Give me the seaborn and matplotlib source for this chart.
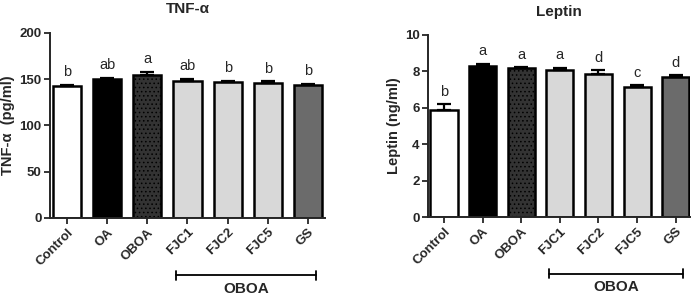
import numpy as np
import pandas as pd
import seaborn as sns
import matplotlib.pyplot as plt
import matplotlib.transforms as mtransforms

# ---------------------------------------------------------------------------
# data
# ---------------------------------------------------------------------------
grupos = ["Control", "OA", "OBOA", "FJC1", "FJC2", "FJC5", "GS"]

tnf_media = [142.5, 150.0, 154.5, 147.5, 146.5, 146.3, 143.5]
tnf_erro = [1.5, 1.5, 3.5, 3.0, 1.8, 1.5, 1.5]
tnf_letras = ["b", "ab", "a", "ab", "b", "b", "b"]

leptina_media = [5.9, 8.27, 8.18, 8.06, 7.85, 7.13, 7.67]
leptina_erro = [0.3, 0.15, 0.05, 0.15, 0.2, 0.12, 0.13]
leptina_letras = ["b", "a", "a", "a", "d", "c", "d"]

cores = {"Control": "#ffffff", "OA": "#000000", "OBOA": "#333333",
         "FJC1": "#d8d8d8", "FJC2": "#d8d8d8", "FJC5": "#d8d8d8", "GS": "#6b6b6b"}

sns.set_style("ticks")
plt.rcParams["font.family"] = ["Liberation Sans", "DejaVu Sans"]
plt.rcParams["hatch.color"] = "#5a5a5a"
plt.rcParams["hatch.linewidth"] = 0.6


def painel(ax, medias, erros, letras, titulo, ylabel, ymax, passo, xlim):
    df = pd.DataFrame({"grupo": grupos, "valor": medias})
    sns.barplot(data=df, x="grupo", y="valor", hue="grupo", palette=cores,
                legend=False, width=0.7, edgecolor="black", linewidth=1.8,
                errorbar=None, ax=ax)
    ax.patches[2].set_hatch("....")

    x = np.arange(len(grupos))
    ax.errorbar(x, medias, yerr=[np.zeros(len(x)), erros], fmt="none",
                ecolor="black", elinewidth=1.6, capsize=5, capthick=1.6, zorder=3)

    for xi, m, e, l in zip(x, medias, erros, letras):
        ax.text(xi, m + e + ymax * 0.03, l, ha="center", va="bottom", fontsize=10.5)

    ax.set_ylim(0, ymax)
    ax.set_yticks(np.arange(0, ymax + passo / 2, passo))
    ax.set_xlim(*xlim)
    ax.set_title(titulo, fontsize=11, weight="bold", pad=14)
    ax.set_ylabel(ylabel, fontsize=10.5, weight="bold", labelpad=3)
    ax.set_xlabel("")
    ax.set_xticks(x)
    ax.set_xticklabels(grupos, rotation=45, ha="right", rotation_mode="anchor",
                       fontsize=9.5, weight="bold")
    for t in ax.get_yticklabels():
        t.set_fontweight("bold")
        t.set_fontsize(9.5)
    ax.tick_params(axis="both", width=1.3, length=4, pad=2)
    for s in ["left", "bottom"]:
        ax.spines[s].set_linewidth(1.4)
    sns.despine(ax=ax)

    # bracket under the OBOA sub-groups
    trans = mtransforms.blended_transform_factory(ax.transData, ax.transAxes)
    ax.plot([2.72, 6.2], [-0.31, -0.31], color="black", lw=1.3,
            transform=trans, clip_on=False)
    for xb in [2.72, 6.2]:
        ax.plot([xb, xb], [-0.285, -0.335], color="black", lw=1.3,
                transform=trans, clip_on=False)
    ax.text((2.72 + 6.2) / 2, -0.385, "OBOA", ha="center", va="center",
            fontsize=11, weight="bold", transform=trans)


fig = plt.figure(figsize=(6.99, 2.99), dpi=100)
ax1 = fig.add_axes([0.0715, 0.271, 0.394, 0.619])
ax2 = fig.add_axes([0.612, 0.274, 0.375, 0.609])

painel(ax1, tnf_media, tnf_erro, tnf_letras, "TNF-\u03b1", "TNF-\u03b1  (pg/ml)",
       200, 50, (-0.42, 6.43))
painel(ax2, leptina_media, leptina_erro, leptina_letras, "Leptin", "Leptin (ng/ml)",
       10, 2, (-0.42, 6.37))

fig.savefig("out.png", dpi=100)
